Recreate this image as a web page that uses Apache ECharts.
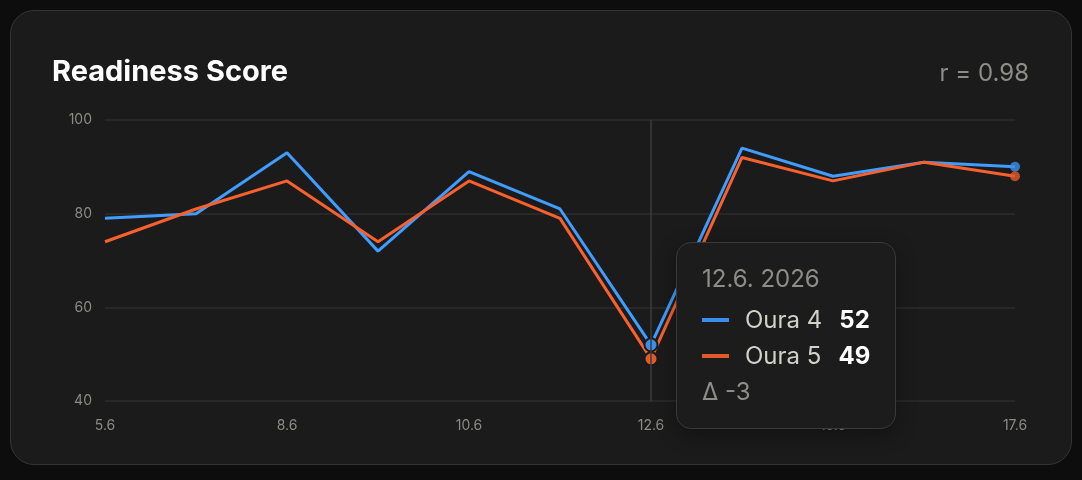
<!DOCTYPE html>
<html>
<head>
<meta charset="utf-8">
<script src="https://cdn.jsdelivr.net/npm/echarts@6/dist/echarts.min.js"></script>
<style>
  html, body { margin:0; padding:0; background:#0d0d0d; width:1082px; height:480px; overflow:hidden; }
  #card { position:absolute; left:10px; top:10px; width:1060px; height:453px; background:#1b1b1b; border:1px solid #343434; border-radius:24px; }
  #chart { position:absolute; left:0; top:0; width:1082px; height:480px; }
</style>
</head>
<body>
<div id="card"></div>
<div id="chart"></div>
<script>
const titleText = 'Readiness Score';
const correlationText = 'r = 0.98';
const year = 2026;
const categories = ['5.6','7.6','8.6','9.6','10.6','11.6','12.6','14.6','15.6','16.6','17.6'];
const seriesNames = ['Oura 4', 'Oura 5'];
const oura4 = [79, 80, 93, 72, 89, 81, 52, 94, 88, 91, 90];
const oura5 = [74, 81, 87, 74, 87, 79, 49, 92, 87, 91, 88];
const yMin = 40, yMax = 100, yInterval = 20;
const highlightIndex = 6;

const colors = ['#3b8fea', '#e2592a'];
const last = categories.length - 1;
const FONT = 'Inter, "Noto Sans", sans-serif';

const chart = echarts.init(document.getElementById('chart'), null, { renderer: 'canvas' });

function lineSeries(name, data, color) {
  return {
    name, type: 'line', data,
    showSymbol: false, symbol: 'circle', symbolSize: 13,
    itemStyle: { color, borderColor: '#1b1b1b', borderWidth: 2 },
    lineStyle: { color, width: 3 },
    emphasis: { scale: false, lineStyle: { width: 3 } },
    z: 3
  };
}
function endDot(data, color) {
  return {
    type: 'scatter', symbol: 'circle', symbolSize: 10,
    data: [[categories[last], data[last]]],
    itemStyle: { color }, silent: true, z: 4, tooltip: { show: false }
  };
}

chart.setOption({
  animation: false,
  backgroundColor: 'transparent',
  textStyle: { fontFamily: FONT },
  title: [
    { text: titleText, left: 52, top: 58, padding: 0, textStyle: { color: '#ffffff', fontSize: 29, fontWeight: 700, fontFamily: FONT } },
    { text: correlationText, right: 53, top: 62, padding: 0, textStyle: { color: '#8d8d88', fontSize: 24, fontWeight: 400, fontFamily: FONT } }
  ],
  grid: { left: 105, right: 67, top: 120, bottom: 79, containLabel: false },
  xAxis: {
    type: 'category', data: categories, boundaryGap: false,
    axisLine: { show: false }, axisTick: { show: false },
    axisLabel: { interval: 1, color: '#8a8a86', fontSize: 14, margin: 18, fontFamily: FONT },
    splitLine: { show: false }
  },
  yAxis: {
    type: 'value', min: yMin, max: yMax, interval: yInterval,
    axisLine: { show: false }, axisTick: { show: false },
    axisLabel: { color: '#8a8a86', fontSize: 14, margin: 13, fontFamily: FONT },
    splitLine: { lineStyle: { color: '#2e2e2e', width: 1.5 } }
  },
  tooltip: {
    trigger: 'axis', triggerOn: 'none', alwaysShowContent: true,
    transitionDuration: 0,
    position: [676, 242],
    backgroundColor: '#1c1c1c', borderColor: '#3a3a3a', borderWidth: 1.5,
    padding: 0,
    extraCssText: 'border-radius:15px; box-shadow:0 6px 20px rgba(0,0,0,0.35);',
    axisPointer: { type: 'line', lineStyle: { color: '#3c3c3c', width: 1.5, type: 'solid' }, label: { show: false } },
    formatter: function (params) {
      const ps = params.filter(p => p.seriesIndex < 2);
      const idx = ps[0].dataIndex;
      const d = oura5[idx] - oura4[idx];
      let h = '<div style="width:193px;height:167px;padding:18px 0 0 25px;font-family:Inter,sans-serif;font-size:24px;">';
      h += '<div style="line-height:36px;color:#8e8e89;margin-bottom:5px;">' + categories[idx] + '. ' + year + '</div>';
      ps.forEach(p => {
        h += '<div style="line-height:36px;display:flex;align-items:center;">' +
          '<span style="display:inline-block;width:27px;height:4px;background:' + colors[p.seriesIndex] + ';"></span>' +
          '<span style="margin-left:16px;color:#d2d2c9;">' + p.seriesName + '</span>' +
          '<span style="margin-left:17px;color:#ffffff;font-weight:700;">' + p.value + '</span></div>';
      });
      h += '<div style="line-height:36px;color:#8e8e89;">Δ ' + (d > 0 ? '+' + d : d) + '</div>';
      h += '</div>';
      return h;
    }
  },
  series: [
    lineSeries(seriesNames[0], oura4, colors[0]),
    lineSeries(seriesNames[1], oura5, colors[1]),
    endDot(oura4, colors[0]),
    endDot(oura5, colors[1])
  ]
});

setTimeout(function () {
  chart.dispatchAction({ type: 'showTip', seriesIndex: 0, dataIndex: highlightIndex });
}, 50);
</script>
</body>
</html>
